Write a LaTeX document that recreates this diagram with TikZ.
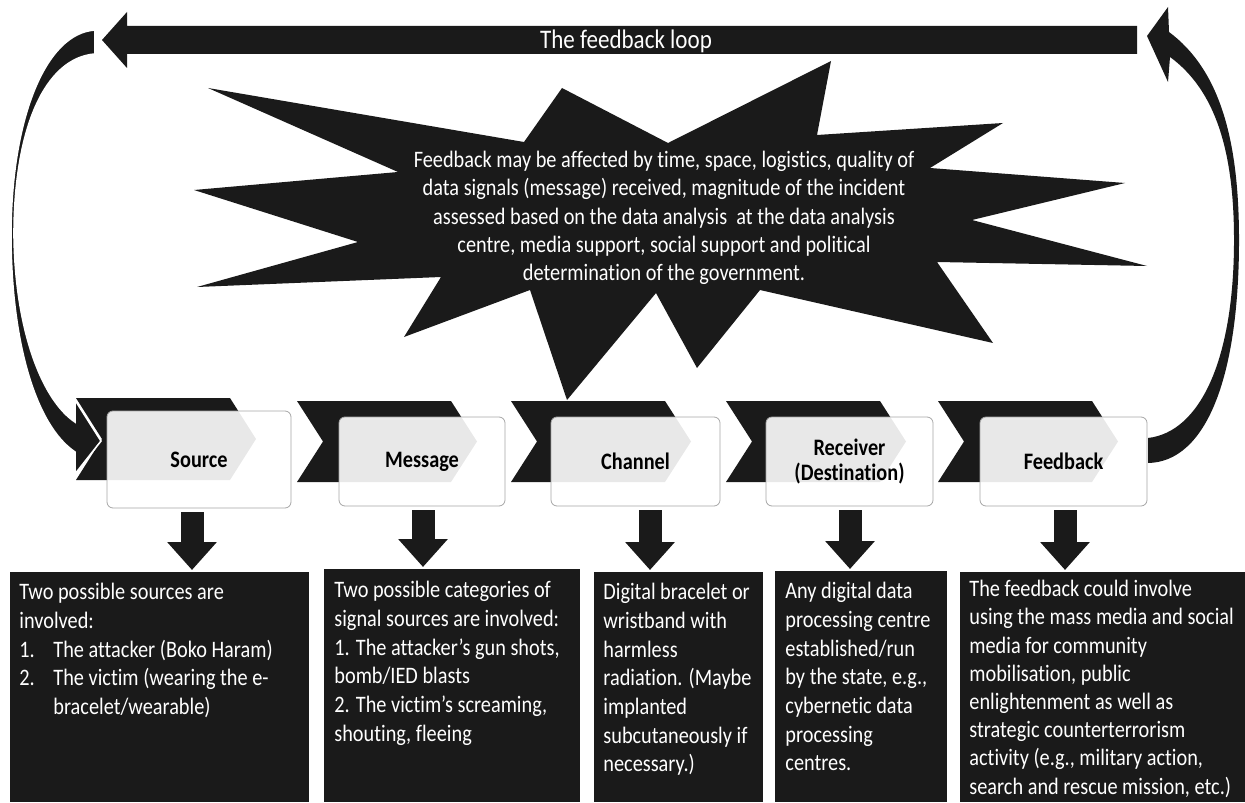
\documentclass[tikz,border=0pt]{standalone}
\usepackage{fontspec}
\setmainfont[FakeStretch=0.86, Ligatures=NoCommon]{Carlito}
\usetikzlibrary{arrows.meta}
\definecolor{ink}{HTML}{1A1A1A}

\tikzset{
  stage/.style={draw=gray!70, line width=0.4pt, rounded corners=3pt, fill=white,
    fill opacity=0.9, text opacity=1, align=center, inner sep=0pt,
    font=\fontsize{11.8}{12.5}\selectfont\bfseries},
  note/.style={fill=ink, anchor=north west, inner sep=0pt},
  notetext/.style={anchor=north west, text=white, align=left, inner sep=0pt,
    font=\fontsize{11.8}{14.35}\selectfont},
  downarrow/.style={ink, line width=11.5pt, -{Triangle[width=24pt,length=14pt]},
    shorten <=2pt, shorten >=1pt},
}

\begin{document}
\begin{tikzpicture}[x=0.5pt, y=-0.5pt]
  \useasboundingbox (0,0) rectangle (1245,802);

  % the feedback loop
  \fill[ink] (102,40) -- (127,12) -- (127,26) -- (1137,26) -- (1137,54) -- (127,54) -- (127,68) -- cycle;
  \node[text=white, font=\fontsize{13.4}{16}\selectfont] (loop) at (626,41) {The feedback loop};

  \fill[ink] (208,88) -- (524,142) -- (562,88) -- (668,143) -- (831,61) -- (817,135)
    -- (1003,123) -- (930,168) -- (1125,183) -- (972,220) -- (1147,266) -- (937,262)
    -- (993,343) -- (760,290) -- (697,368) -- (656,293) -- (567,400) -- (530,290)
    -- (404,337) -- (441,277) -- (197,287) -- (358,242) -- (194,190) -- (398,172) -- cycle;
  \node[text=white, align=center, font=\fontsize{11.8}{14.2}\selectfont] (burst) at (664,218)
    {Feedback may be affected by time, space, logistics, quality of\\
     data signals (message) received, magnitude of the incident\\
     assessed based on the data analysis\ \ at the data analysis\\
     centre, media support, social support and political\\
     determination of the government.};

  \foreach \x/\t/\b in {76/398/480, 297/401/482, 511/401/482, 726/401/482, 938/401/482}
    \fill[ink] (\x,\t) -- ({\x+154},\t) -- ({\x+180},{(\t+\b)/2}) -- ({\x+154},\b)
      -- (\x,\b) -- ({\x+26},{(\t+\b)/2}) -- cycle;

  % curved arrows of the loop
  \path[fill=ink, draw=white, line width=0.8pt] (95,30) .. controls (45,33) and (11,120) .. (11,235)
    .. controls (11,340) and (35,425) .. (75,452) -- (75,474) -- (101,441) -- (75,400)
    -- (75,422) .. controls (42,400) and (15,330) .. (14,235)
    .. controls (14,128) and (45,58) .. (95,54) -- cycle;
  \fill[ink] (1148,438) .. controls (1200,432) and (1234,360) .. (1234,240)
    .. controls (1234,150) and (1215,90) .. (1170,57) -- (1168,82) -- (1147,36) -- (1168,7)
    -- (1169,32) .. controls (1220,70) and (1239,140) .. (1239,240)
    .. controls (1239,380) and (1205,462) .. (1148,463) -- cycle;

  \node[stage, minimum width=92pt, minimum height=48.5pt] (src) at (199,459.5) {Source};
  \node[stage, minimum width=83pt, minimum height=44.5pt] (msg) at (422,461.5) {Message};
  \node[stage, minimum width=84.5pt, minimum height=44.5pt] (chn) at (635.5,461.5) {Channel};
  \node[stage, minimum width=83.5pt, minimum height=44.5pt] (rcv) at (849.5,461.5) {Receiver\\(Destination)};
  \node[stage, minimum width=83.5pt, minimum height=44.5pt] (fbk) at (1063.5,461.5) {Feedback};

  \node[note, minimum width=149.5pt, minimum height=115pt] (srcnote) at (10,572) {};
  \node[note, minimum width=128pt, minimum height=116.5pt] (msgnote) at (324,569) {};
  \node[note, minimum width=84.5pt, minimum height=115pt] (chnnote) at (594,572) {};
  \node[note, minimum width=86pt, minimum height=115.5pt] (rcvnote) at (775,571) {};
  \node[note, minimum width=142.5pt, minimum height=115pt] (fbknote) at (960,572) {};

  \foreach \a/\b/\x in {src/srcnote/192, msg/msgnote/423, chn/chnnote/650, rcv/rcvnote/850, fbk/fbknote/1065}
    \draw[downarrow] (\x,0 |- \a.south) -- (\x,0 |- \b.north);

  \node[notetext] (srctext) at ([shift={(9,11)}]srcnote.north west)
    {Two possible sources are\\involved:\\
     \makebox[17pt][l]{1.}The attacker (Boko Haram)\\
     \makebox[17pt][l]{2.}The victim (wearing the e-\\
     \hspace*{17pt}bracelet/wearable)};
  \node[notetext] (msgtext) at ([shift={(10,12)}]msgnote.north west)
    {Two possible categories of\\signal sources are involved:\\
     1. The attacker’s gun shots,\\bomb/IED blasts\\
     2. The victim’s screaming,\\shouting, fleeing};
  \node[notetext] (chntext) at ([shift={(9,11)}]chnnote.north west)
    {Digital bracelet or\\wristband with\\harmless\\radiation. (Maybe\\implanted\\
     subcutaneously if\\necessary.)};
  \node[notetext] (rcvtext) at ([shift={(10,11)}]rcvnote.north west)
    {Any digital data\\processing centre\\established/run\\by the state, e.g.,\\
     cybernetic data\\processing\\centres.};
  \node[notetext, font=\fontsize{11.8}{14.1}\selectfont] (fbktext) at ([shift={(9,8)}]fbknote.north west)
    {The feedback could involve\\using the mass media and social\\media for community\\
     mobilisation, public\\enlightenment as well as\\strategic counterterrorism\\
     activity (e.g., military action,\\search and rescue mission, etc.)};
\end{tikzpicture}
\end{document}
